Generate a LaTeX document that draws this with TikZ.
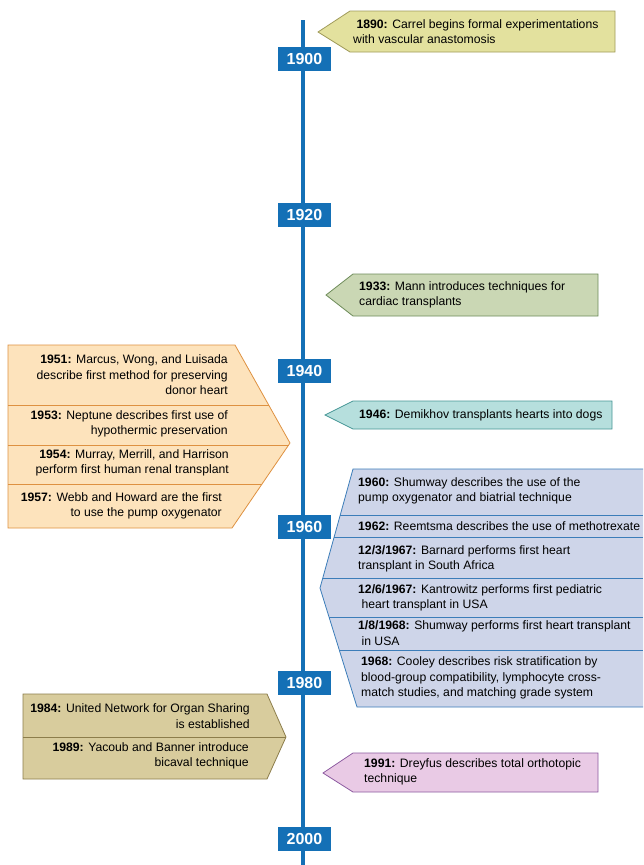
\documentclass[tikz,border=0pt]{standalone}
\usepackage{fontspec}
\setmainfont{Liberation Sans}
\usepackage{tikz}

\definecolor{axisblue}{RGB}{20,112,182}
\definecolor{yellowfill}{RGB}{227,225,158}
\definecolor{yellowline}{RGB}{160,155,90}
\definecolor{greenfill}{RGB}{202,215,180}
\definecolor{greenline}{RGB}{110,140,90}
\definecolor{tealfill}{RGB}{182,223,221}
\definecolor{tealline}{RGB}{70,150,150}
\definecolor{orangefill}{RGB}{253,227,188}
\definecolor{orangeline}{RGB}{222,145,65}
\definecolor{lavfill}{RGB}{206,213,233}
\definecolor{lavline}{RGB}{60,125,185}
\definecolor{tanfill}{RGB}{216,204,157}
\definecolor{tanline}{RGB}{140,125,75}
\definecolor{pinkfill}{RGB}{233,202,229}
\definecolor{pinkline}{RGB}{140,90,160}

\begin{document}
\begin{tikzpicture}[x=1pt,y=-1pt]
\tikzstyle{year}=[fill=axisblue,text=white,inner sep=0pt,minimum width=53pt,minimum height=24pt,font=\fontsize{16}{16}\selectfont\bfseries];
\tikzstyle{note}=[anchor=west,inner sep=0pt,align=left,font=\fontsize{12.2}{15.5}\selectfont];
\tikzstyle{noteright}=[anchor=east,inner sep=0pt,align=right,font=\fontsize{12.2}{15.5}\selectfont];
\tikzstyle{box}=[line width=0.8pt,line join=miter];

\useasboundingbox (0,0) rectangle (643,865);

% time axis
\coordinate (axistop) at (303,20);
\coordinate (axisend) at (303,865);
\draw[axisblue,line width=4.5pt] (axistop) -- (axisend);

\node[year] (y1900) at (304.5,59) {1900};
\node[year] (y1920) at (304.5,215) {1920};
\node[year] (y1940) at (304.5,371) {1940};
\node[year] (y1960) at (304.5,527) {1960};
\node[year] (y1980) at (304.5,683) {1980};
\node[year] (y2000) at (304.5,839) {2000};

% single callouts on the right
\draw[box,fill=yellowfill,draw=yellowline] (318,32) -- (350,11) -- (615,11) -- (615,52) -- (350,52) -- cycle;
\node[note] (e1890) at (353,31.5) {\ \textbf{1890:} Carrel begins formal experimentations\\with vascular anastomosis};

\draw[box,fill=greenfill,draw=greenline] (326,295) -- (353,274) -- (598,274) -- (598,316) -- (353,316) -- cycle;
\node[note] (e1933) at (359,295) {\textbf{1933:} Mann introduces techniques for\\cardiac transplants};

\draw[box,fill=tealfill,draw=tealline] (325,415) -- (353,401) -- (612,401) -- (612,429) -- (353,429) -- cycle;
\node[note] (e1946) at (359,415) {\textbf{1946:} Demikhov transplants hearts into dogs};

\draw[box,fill=pinkfill,draw=pinkline] (323,773) -- (353,753) -- (598,753) -- (598,792) -- (353,792) -- cycle;
\node[note] (e1991) at (364,772) {\textbf{1991:} Dreyfus describes total orthotopic\\technique};

% 1950s group
\draw[box,fill=orangefill,draw=orangeline] (8,345) -- (235,345) -- (290,443) -- (232,528) -- (8,528) -- cycle;
\draw[box,draw=orangeline] (8,405) -- (268.7,405);
\draw[box,draw=orangeline] (8,445) -- (288.6,445);
\draw[box,draw=orangeline] (8,484) -- (262,484);
\node[noteright] (e1951) at (228,375) {\textbf{1951:} Marcus, Wong, and Luisada\\describe first method for preserving\\donor heart};
\node[noteright] (e1953) at (228,424) {\textbf{1953:} Neptune describes first use of\\hypothermic preservation};
\node[noteright] (e1954) at (229,463) {\textbf{1954:} Murray, Merrill, and Harrison\\perform first human renal transplant};
\node[noteright] (e1957) at (222,506) {\textbf{1957:} Webb and Howard are the first\\to use the pump oxygenator};

% 1960s group
\fill[lavfill] (353,469) -- (643,469) -- (643,707) -- (357,707) -- (320,588) -- cycle;
\draw[box,draw=lavline] (643,469) -- (353,469) -- (320,588) -- (357,707) -- (643,707);
\draw[box,draw=lavline] (340.2,515) -- (643,515);
\draw[box,draw=lavline] (334.1,537) -- (643,537);
\draw[box,draw=lavline] (322.8,578) -- (643,578);
\draw[box,draw=lavline] (329,617) -- (643,617);
\draw[box,draw=lavline] (339.3,650) -- (643,650);
\node[note] (e1960) at (358,491) {\textbf{1960:} Shumway describes the use of the\\pump oxygenator and biatrial technique};
\node[note] (e1962) at (358,526) {\textbf{1962:} Reemtsma describes the use of methotrexate};
\node[note] (e1967a) at (358,559) {\textbf{12/3/1967:} Barnard performs first heart\\transplant in South Africa};
\node[note] (e1967b) at (358,598) {\textbf{12/6/1967:} Kantrowitz performs first pediatric\\\ heart transplant in USA};
\node[note] (e1968a) at (358,633) {\textbf{1/8/1968:} Shumway performs first heart transplant\\\ in USA};
\node[note] (e1968b) at (361,678) {\textbf{1968:} Cooley describes risk stratification by\\blood-group compatibility, lymphocyte cross-\\match studies, and matching grade system};

% 1980s group
\draw[box,fill=tanfill,draw=tanline] (23,694) -- (267,694) -- (286,737) -- (267,779) -- (23,779) -- cycle;
\draw[box,draw=tanline] (23,737) -- (286,737);
\node[noteright] (e1984) at (250,716) {\textbf{1984:} United Network for Organ Sharing\\is established};
\node[noteright] (e1989) at (249,756) {\textbf{1989:} Yacoub and Banner introduce\\bicaval technique};
\end{tikzpicture}
\end{document}
